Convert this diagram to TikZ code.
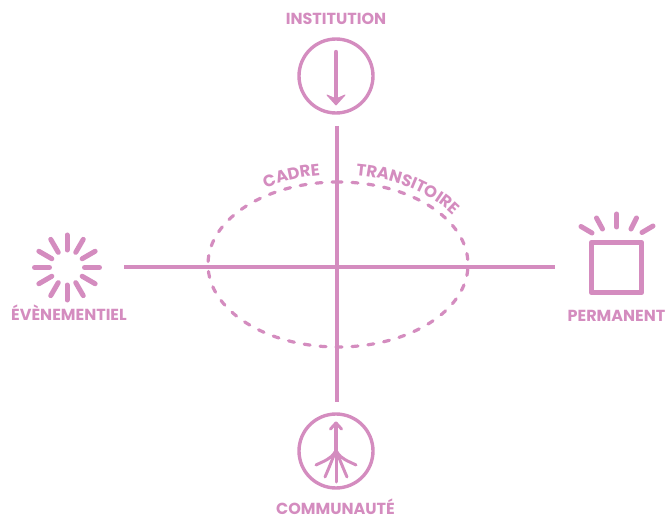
\documentclass[tikz,border=0pt]{standalone}
\usepackage{fontspec}
\setmainfont{Poppins}
\usetikzlibrary{decorations.text}
\definecolor{rose}{HTML}{D48CBF}
\tikzset{
  x=1pt,y=-1pt,
  every path/.style={line cap=round,line join=round},
  axisline/.style={draw=rose,line width=3.2pt,line cap=butt},
  ringnode/.style={circle,draw=rose,line width=3.4pt,minimum size=74pt,inner sep=0pt},
  labelnode/.style={text=rose,font=\fontsize{16}{17}\selectfont\bfseries,inner sep=0pt,anchor=base},
  stem/.style={draw=rose,line width=4.4pt},
  rootline/.style={draw=rose,line width=3pt},
  rayline/.style={draw=rose,line width=5pt},
  ovalline/.style={draw=rose,line width=3.2pt,dash pattern=on 6pt off 10pt},
  squarenode/.style={draw=rose,line width=5.6pt,minimum size=50pt,inner sep=0pt}
}
\begin{document}
\begin{tikzpicture}
\useasboundingbox (0,0) rectangle (670,516);
% axes
\coordinate (axT) at (337,126);
\coordinate (axB) at (337,402);
\coordinate (axL) at (124,267);
\coordinate (axR) at (555,267);
\draw[axisline] (axT) -- (axB);
\draw[axisline] (axL) -- (axR);
% oval
\draw[ovalline] (338,182) arc[start angle=90,end angle=450,x radius=130pt,y radius=82.5pt];
% curved labels
\path[decorate,decoration={text along path,text align=center,
  text={|\color{rose}\fontsize{16.5}{17}\selectfont\bfseries|CADRE}}]
  ({338+137*cos(128)},{264.5-90*sin(128)}) arc[start angle=128,end angle=92,x radius=137pt,y radius=90pt];
\path[decorate,decoration={text along path,text align=center,
  text={|\color{rose}\fontsize{16.5}{17}\selectfont\bfseries|TRANSITOIRE}}]
  ({338+137*cos(92)},{264.5-90*sin(92)}) arc[start angle=92,end angle=20,x radius=137pt,y radius=90pt];
% top
\node[labelnode] (inst) at (336,24.5) {INSTITUTION};
\node[ringnode] (ringT) at (336,76) {};
\coordinate (arrowA) at (336,52);
\coordinate (arrowB) at (336,98);
\draw[stem] (arrowA) -- (arrowB);
\fill[rose,draw=rose,line width=1pt] (327,95) -- (336,99) -- (345,95) -- (336,105) -- cycle;
% bottom
\node[labelnode] (comm) at (335.5,514) {COMMUNAUTÉ};
\node[ringnode] (ringB) at (336,451) {};
\coordinate (rootTop) at (336,424);
\coordinate (rootFork) at (336,454);
\draw[stem] (rootTop) -- (rootFork);
\draw[rootline] (330.5,429) -- (336,423) -- (341.5,429);
\draw[rootline] (335,452) .. controls (331,459) and (324,461) .. (316,465);
\draw[rootline] (337,452) .. controls (341,459) and (348,461) .. (356,465);
\draw[rootline] (334,455) .. controls (331,463) and (328,470) .. (325,477);
\draw[rootline] (338,455) .. controls (341,463) and (344,470) .. (347,477);
\draw[rootline] (336,454) -- (336,482);
% left burst
\node[labelnode] (even) at (69,320.5) {ÉVÈNEMENTIEL};
\coordinate (burst) at (67,267.5);
\foreach \a in {0,30,...,330}{
  \draw[rayline] (burst) ++(\a:17.5) -- ++(\a:15);
}
% right
\node[labelnode] (perm) at (616.5,321) {PERMANENT};
\node[squarenode] (sq) at (616.5,267.5) {};
\draw[rayline] (616.7,214) -- (616.7,227);
\draw[rayline] (596.5,218) -- (602.5,229);
\draw[rayline] (581,226.5) -- (592,233);
\draw[rayline] (636.5,218) -- (631,229);
\draw[rayline] (653,226) -- (642,232.5);
\end{tikzpicture}
\end{document}
